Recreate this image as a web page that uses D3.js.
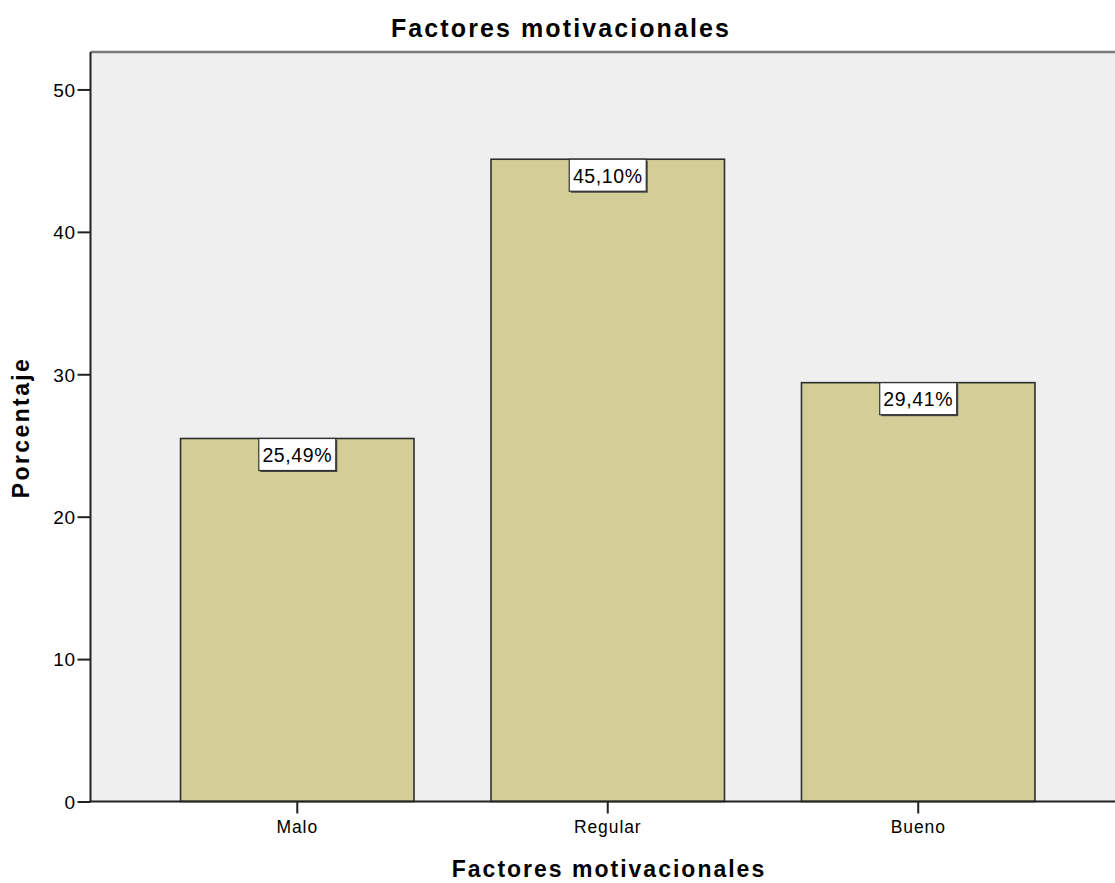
<!DOCTYPE html>
<html>
<head>
<meta charset="utf-8">
<script src="https://cdn.jsdelivr.net/npm/d3@7"></script>
<style>
  html, body { margin: 0; padding: 0; background: #fff; }
  svg { display: block; }
  text { font-family: "Liberation Sans", Arial, sans-serif; fill: #000; }
</style>
</head>
<body>
<svg id="chart" width="1115" height="883"></svg>
<script>
// Chart data
const categories = ["Malo", "Regular", "Bueno"];
const percentages = [25.49, 45.10, 29.41];
const yTicks = [0, 10, 20, 30, 40, 50];
const chartTitle = "Factores motivacionales";
const xTitle = "Factores motivacionales";
const yTitle = "Porcentaje";

(function () {
const svg = d3.select("#chart");
const W = 1115, H = 883;

// Plot area (frame continues past the right edge of the page)
const plotLeft = 90.5, plotRight = 1125, plotTop = 52, plotBottom = 801.5;

const x = d3.scaleBand()
  .domain(categories)
  .range([plotLeft, plotRight])
  .paddingInner(0.248)
  .paddingOuter(0.29);

const y = d3.scaleLinear()
  .domain([0, 52.63])
  .range([plotBottom, plotTop]);

// Plot background
svg.append("rect")
  .attr("x", plotLeft).attr("y", plotTop)
  .attr("width", plotRight - plotLeft).attr("height", plotBottom - plotTop)
  .attr("fill", "#efefef");

// Top frame line
svg.append("line")
  .attr("x1", plotLeft).attr("x2", W)
  .attr("y1", plotTop).attr("y2", plotTop)
  .attr("stroke", "#7a7a7a").attr("stroke-width", 2.5);

// Bars
svg.append("g").selectAll("rect")
  .data(categories)
  .join("rect")
  .attr("x", d => x(d))
  .attr("y", (d, i) => y(percentages[i]))
  .attr("width", x.bandwidth())
  .attr("height", (d, i) => y(0) - y(percentages[i]))
  .attr("fill", "#d3ce98")
  .attr("stroke", "#2e2e2e")
  .attr("stroke-width", 1.6);

// Y axis
const yAxis = d3.axisLeft(y)
  .tickValues(yTicks)
  .tickSize(13)
  .tickPadding(2)
  .tickFormat(d3.format("d"));
const gy = svg.append("g")
  .attr("transform", `translate(${plotLeft},0)`)
  .call(yAxis);
gy.select(".domain").remove();
gy.append("line")
  .attr("x1", 0).attr("x2", 0)
  .attr("y1", plotTop).attr("y2", plotBottom)
  .attr("stroke", "#222").attr("stroke-width", 2);
gy.selectAll(".tick line").attr("stroke", "#222").attr("stroke-width", 2);
gy.selectAll(".tick text")
  .attr("font-size", 19)
  .attr("letter-spacing", 0.5)
  .attr("fill", "#111")
  .style("font-family", "'Liberation Sans', Arial, sans-serif")
  .attr("dy", "0.36em");

// X axis
const xAxis = d3.axisBottom(x).tickSize(12).tickPadding(7);
const gx = svg.append("g")
  .attr("transform", `translate(0,${plotBottom})`)
  .call(xAxis);
gx.select(".domain").remove();
gx.append("line")
  .attr("x1", plotLeft - 1).attr("x2", W)
  .attr("y1", 0).attr("y2", 0)
  .attr("stroke", "#222").attr("stroke-width", 2);
gx.selectAll(".tick line").attr("stroke", "#222").attr("stroke-width", 2);
gx.selectAll(".tick text")
  .attr("font-size", 17.5)
  .attr("letter-spacing", 0.9)
  .attr("fill", "#111")
  .style("font-family", "'Liberation Sans', Arial, sans-serif");

// Value labels in boxes at the top of each bar
const fmt = v => d3.format(".2f")(v).replace(".", ",") + "%";
const labels = svg.append("g").selectAll("g")
  .data(categories)
  .join("g")
  .attr("transform", (d, i) => `translate(${x(d) + x.bandwidth() / 2},${y(percentages[i])})`);

const boxW = 77, boxH = 32;
labels.append("rect")
  .attr("x", -boxW / 2 + 1.5).attr("y", 1.5)
  .attr("width", boxW).attr("height", boxH)
  .attr("fill", "#444");
labels.append("rect")
  .attr("x", -boxW / 2).attr("y", 0)
  .attr("width", boxW).attr("height", boxH)
  .attr("fill", "#fff")
  .attr("stroke", "#333")
  .attr("stroke-width", 1.2);
labels.append("text")
  .attr("text-anchor", "middle")
  .attr("x", 0)
  .attr("y", 23.3)
  .attr("font-size", 19.5)
  .attr("letter-spacing", 0.6)
  .text((d, i) => fmt(percentages[i]));

// Titles
svg.append("text")
  .attr("x", (390 + 732) / 2).attr("y", 36.5)
  .attr("text-anchor", "middle")
  .attr("font-size", 25)
  .attr("font-weight", "bold")
  .attr("letter-spacing", 2.1)
  .text(chartTitle);

svg.append("text")
  .attr("x", (455 + 763) / 2).attr("y", 876.5)
  .attr("text-anchor", "middle")
  .attr("font-size", 23)
  .attr("font-weight", "bold")
  .attr("letter-spacing", 2.0)
  .text(xTitle);

svg.append("text")
  .attr("transform", `translate(28.5,${(358 + 497) / 2}) rotate(-90)`)
  .attr("text-anchor", "middle")
  .attr("font-size", 23)
  .attr("font-weight", "bold")
  .attr("letter-spacing", 2.4)
  .text(yTitle);
})();
</script>
</body>
</html>
